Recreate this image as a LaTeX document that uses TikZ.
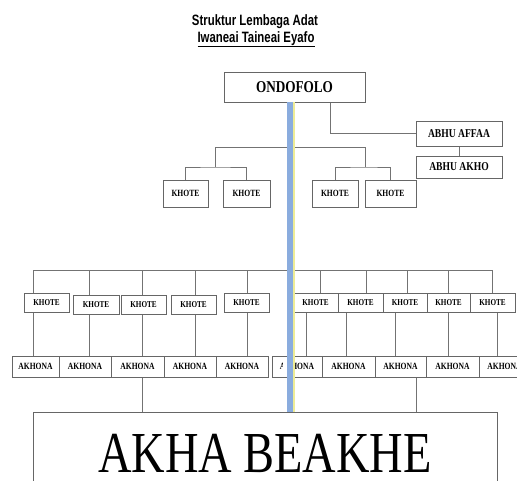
\documentclass[tikz,border=0pt]{standalone}
\usepackage{fontspec}
\setmainfont{Liberation Serif}[FakeStretch=0.8]
\newfontfamily\titlefont{Liberation Sans}[FakeStretch=0.76]
\definecolor{stripblue}{RGB}{138,172,222}
\definecolor{stripyellow}{RGB}{238,236,150}
\begin{document}
\begin{tikzpicture}[x=1pt,y=-1pt,
    box/.style={draw=black!60,line width=1pt,fill=white,inner sep=0pt,font=\bfseries},
    khote/.style={box,minimum height=19pt,font=\fontsize{9}{10}\selectfont\bfseries},
    akhona/.style={box,minimum height=21pt,font=\fontsize{9.5}{10}\selectfont\bfseries},
    link/.style={draw=black!55,line width=0.8pt}]
    \useasboundingbox (0,0) rectangle (517,480);

    % title
    \node[anchor=base,font=\titlefont\bfseries\fontsize{15}{17}\selectfont] (title) at (255,25) {Struktur Lembaga Adat};
    \node[anchor=base,font=\titlefont\bfseries\fontsize{15}{17}\selectfont] (subtitle) at (256,42) {\underline{Iwaneai Taineai Eyafo}};

    % upper part
    \node[box,minimum width=141pt,minimum height=30pt,font=\fontsize{16.5}{18}\selectfont\bfseries] (ondofolo) at (294.5,87) {ONDOFOLO};
    \node[box,minimum width=86pt,minimum height=25pt,font=\fontsize{12}{13}\selectfont\bfseries] (affaa) at (459,133.5) {ABHU AFFAA};
    \node[box,minimum width=86pt,minimum height=22pt,font=\fontsize{12}{13}\selectfont\bfseries] (akho) at (459,167) {ABHU AKHO};
    \node[khote,minimum width=45pt,minimum height=27pt,font=\fontsize{9.5}{10}\selectfont\bfseries] (k1) at (185.5,193.5) {KHOTE};
    \node[khote,minimum width=47pt,minimum height=27pt,font=\fontsize{9.5}{10}\selectfont\bfseries] (k2) at (246.5,193.5) {KHOTE};
    \node[khote,minimum width=46pt,minimum height=27pt,font=\fontsize{9.5}{10}\selectfont\bfseries] (k3) at (335,193.5) {KHOTE};
    \node[khote,minimum width=51pt,minimum height=27pt,font=\fontsize{9.5}{10}\selectfont\bfseries] (k4) at (390.5,193.5) {KHOTE};

    \coordinate (jl) at (215,147);
    \coordinate (jr) at (365,147);
    \coordinate (jl2) at (215,167);
    \coordinate (jr2) at (365,167);
    \draw[link] (jl) -- (jr);
    \draw[link] (jl) -- (jl2);
    \draw[link] (jr) -- (jr2);
    \draw[link] (k1.north) |- (jl2) -| (k2.north);
    \draw[link] (k3.north) |- (jr2) -| (k4.north);
    \draw[link] ([xshift=35.5pt]ondofolo.south) |- (affaa.west);
    \draw[link] (affaa.south) -- (akho.north);

    % lower part, left
    \node[khote,minimum width=45pt] (l1) at (46.5,303) {KHOTE};
    \node[khote,minimum width=46pt] (l2) at (96,304.5) {KHOTE};
    \node[khote,minimum width=45pt] (l3) at (143.5,304.5) {KHOTE};
    \node[khote,minimum width=45pt] (l4) at (193.5,304.5) {KHOTE};
    \node[khote,minimum width=45pt] (l5) at (246.5,302.5) {KHOTE};
    \node[akhona,minimum width=47pt] (a1) at (35.5,366.5) {AKHONA};
    \node[akhona,minimum width=52pt] (a2) at (85,366.5) {AKHONA};
    \node[akhona,minimum width=53pt] (a3) at (137.5,366.5) {AKHONA};
    \node[akhona,minimum width=52pt] (a4) at (190,366.5) {AKHONA};
    \node[akhona,minimum width=52pt] (a5) at (242,366.5) {AKHONA};

    % lower part, right
    \node[khote,minimum width=45pt] (r1) at (315.5,302.5) {KHOTE};
    \node[khote,minimum width=45pt] (r2) at (360.5,302.5) {KHOTE};
    \node[khote,minimum width=44pt] (r3) at (405,302.5) {KHOTE};
    \node[khote,minimum width=43pt] (r4) at (448.5,302.5) {KHOTE};
    \node[khote,minimum width=45pt] (r5) at (492.5,302.5) {KHOTE};
    \node[akhona,minimum width=50pt] (b1) at (297,366.5) {AKHONA};
    \node[akhona,minimum width=53pt] (b2) at (348.5,366.5) {AKHONA};
    \node[akhona,minimum width=51pt] (b3) at (400.5,366.5) {AKHONA};
    \node[akhona,minimum width=53pt] (b4) at (452.5,366.5) {AKHONA};
    \node[akhona,minimum width=51pt] (b5) at (504.5,366.5) {AKHONA};

    \node[box,anchor=north,minimum width=464pt,text height=60pt,text depth=9.5pt,inner ysep=0pt,
        font=\fontsize{58}{60}\selectfont] (beakhe) at (265,412) {AKHA BEAKHE};

    % connectors
    \foreach \i/\x in {1/33,2/89,3/142,4/195,5/247} {
        \coordinate (d\i) at (\x,270);
        \draw[link] (d\i) -- (d\i |- l\i.north);
        \draw[link] (d\i |- l\i.south) -- (d\i |- a\i.north);
    }
    \foreach \i/\x in {1/320,2/366,3/407,4/448,5/492}
        \coordinate (e\i) at (\x,270);
    \foreach \i/\x in {1/306,2/346,3/395,4/448,5/497}
        \coordinate (f\i) at (\x,312);
    \draw[link] (d1) -- (e5);
    \foreach \i in {1,...,5} {
        \draw[link] (e\i) -- (e\i |- r\i.north);
        \draw[link] (f\i |- r\i.south) -- (f\i |- b\i.north);
    }
    \coordinate (g1) at (142,390);
    \coordinate (g2) at (416,390);
    \draw[link] (g1 |- a3.south) -- (g1 |- beakhe.north);
    \draw[link] (g2 |- b3.south) -- (g2 |- beakhe.north);

    % blue strip
    \fill[white] (282.5,359) rectangle (287,375);
    \fill[stripblue] (287,102) rectangle (293,412);
    \fill[stripyellow] (293,102) rectangle (294.5,412);
\end{tikzpicture}
\end{document}
